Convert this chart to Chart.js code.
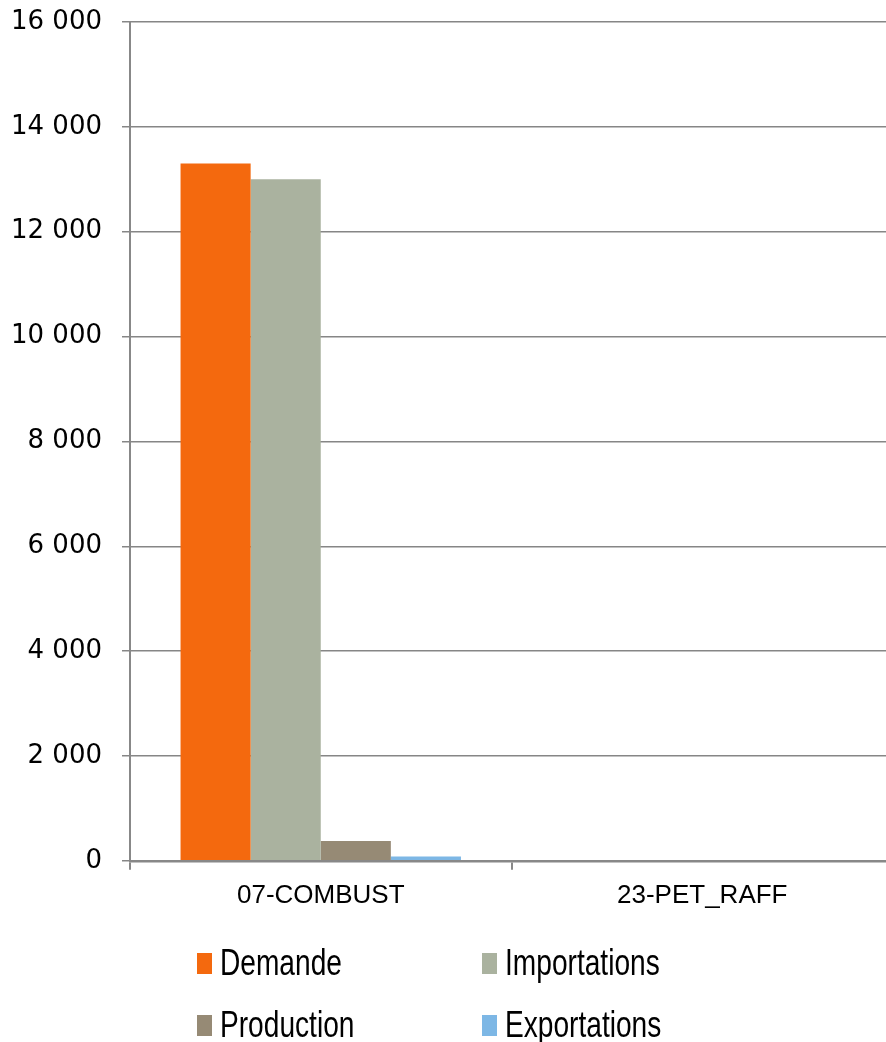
<!DOCTYPE html>
<html>
<head>
<meta charset="utf-8">
<script src="https://cdn.jsdelivr.net/npm/chart.js@4/dist/chart.umd.min.js"></script>
<style>
  body { margin: 0; background: #fff; overflow: hidden; }
  #wrap { position: relative; width: 886px; height: 1042px; overflow: hidden; }
  #legend {
    position: absolute;
    left: 197px;
    top: 932px;
    display: grid;
    grid-template-columns: 285px 285px;
    grid-auto-rows: 62px;
    font-family: "Liberation Sans", Arial, sans-serif;
    font-size: 37px;
    color: #000;
  }
  .item { display: flex; align-items: center; }
  .box { width: 15px; height: 21px; margin-right: 8px; flex: none; }
  .txt { display: inline-block; transform: scaleX(0.76); transform-origin: left center; white-space: nowrap; }
</style>
</head>
<body>
<div id="wrap">
  <canvas id="chart" width="893" height="1042"></canvas>
  <div id="legend"></div>
</div>
<script>
// categories and series
const categories = ['07-COMBUST', '23-PET_RAFF']
const demande = [13300, 0]
const importations = [13000, 0]
const production = [380, 0]
const exportations = [80, 0]
const seriesNames = ['Demande', 'Importations', 'Production', 'Exportations']
const seriesColors = ['#F4690E', '#AAB29F', '#968A75', '#7DB7E5']
const yTickLabels = ['0', '2 000', '4 000', '6 000', '8 000', '10 000', '12 000', '14 000', '16 000']

const seriesData = [demande, importations, production, exportations]
const datasets = seriesNames.map((name, i) => ({
    label: name,
    data: seriesData[i],
    backgroundColor: seriesColors[i],
    borderWidth: 0,
    barPercentage: 1,
    categoryPercentage: 0.735
}))

const ctx = document.getElementById('chart').getContext('2d')
const myChart = new Chart(ctx, {
    type: 'bar',
    data: {
        labels: categories,
        datasets: datasets
    },
    options: {
        responsive: false,
        animation: false,
        layout: {
            padding: { top: 22, right: 0, bottom: 121, left: 0 }
        },
        scales: {
            x: {
                grid: {
                    drawOnChartArea: false,
                    color: '#888',
                    lineWidth: 2,
                    tickLength: 9
                },
                border: { color: '#888', width: 2.5 },
                ticks: {
                    color: '#000',
                    padding: 10,
                    font: { family: 'Liberation Sans', size: 26 }
                }
            },
            y: {
                min: 0,
                max: 16000,
                // fixed axis width, no extra room above the top label
                afterFit: (scale) => {
                    scale.width = 130
                    scale.paddingTop = 0
                    scale.paddingBottom = 0
                },
                grid: {
                    color: '#868686',
                    lineWidth: 1.5,
                    tickLength: 8
                },
                border: { color: '#888', width: 2 },
                ticks: {
                    stepSize: 2000,
                    color: '#000',
                    padding: 20,
                    font: { family: 'DejaVu Sans', size: 26 },
                    callback: (value, index) => yTickLabels[index]
                }
            }
        },
        plugins: {
            legend: { display: false },
            tooltip: { enabled: false }
        }
    }
})

// legend as html, two columns
const legend = document.getElementById('legend')
myChart.data.datasets.forEach(ds => {
    const item = document.createElement('div')
    item.className = 'item'
    item.innerHTML = `<span class="box" style="background:${ds.backgroundColor}"></span><span class="txt">${ds.label}</span>`
    legend.appendChild(item)
})
</script>
</body>
</html>
